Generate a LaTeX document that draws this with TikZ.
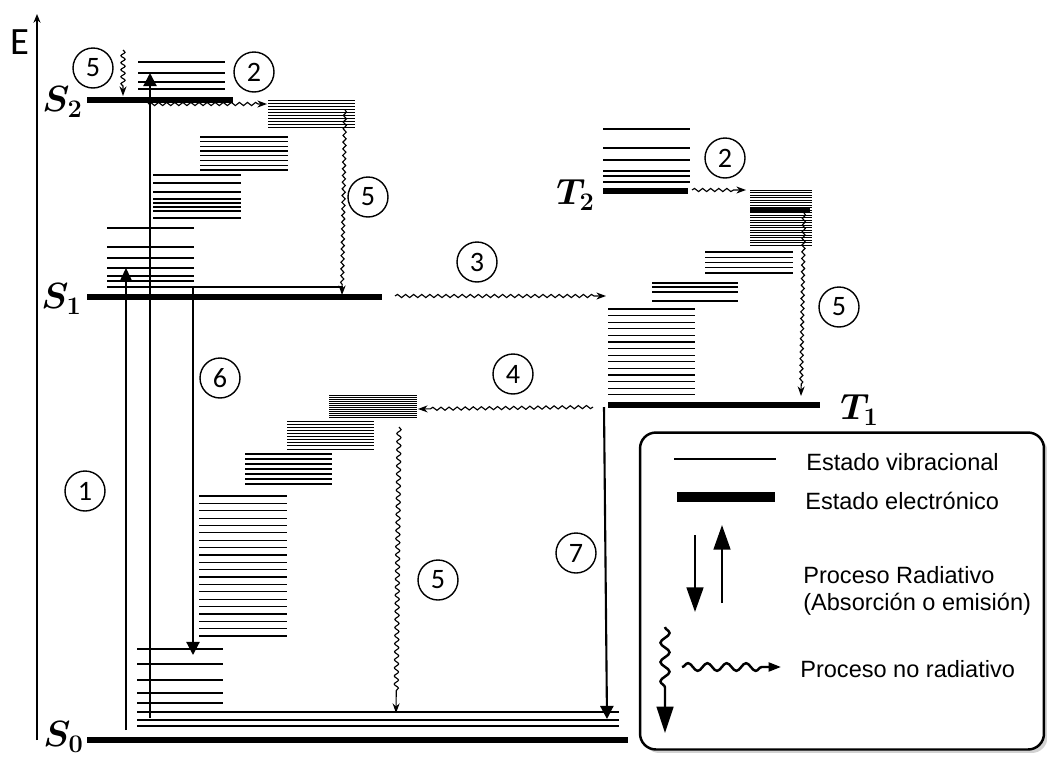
\documentclass[tikz,border=0pt]{standalone}
\usepackage{fontspec}
\setmainfont{Liberation Sans}
\newfontfamily\calfont{Carlito}
\usetikzlibrary{arrows.meta,decorations.pathmorphing,shadows}

\begin{document}
\begin{tikzpicture}[x=0.02cm, y=-0.02cm,
    lvl/.style={line width=3.6pt},
    vib/.style={line width=0.7pt},
    vibfino/.style={line width=0.45pt},
    num/.style={circle, draw, line width=0.8pt, minimum size=0.8cm, inner sep=0pt,
      font=\calfont\fontsize{16}{18}\selectfont},
    est/.style={font=\fontsize{20}{23}\selectfont\boldmath, inner sep=0pt},
    rad/.style={line width=1.2pt, -{Triangle[length=7.5pt,width=7.5pt]}},
    radthin/.style={line width=0.6pt, -{Triangle[length=7.5pt,width=7pt]}},
    wave/.style={line width=0.65pt, decorate,
      decoration={snake, amplitude=0.9pt, segment length=4.6pt, post length=5pt},
      -{Stealth[length=5.5pt,width=4pt]}},
    legrad/.style={line width=1.4pt, -{Triangle[length=14pt,width=9.5pt]}},
    txt/.style={anchor=west, inner sep=0pt, font=\fontsize{13.4}{15.3}\selectfont}
  ]
    \useasboundingbox (0,0) rectangle (1047,761);

    % eje de energia
    \coordinate (ebot) at (37,740);
    \coordinate (etop) at (37,14);
    \draw[line width=0.6pt, -{Stealth[length=5pt,width=4pt]}] (ebot) -- (etop);
    \node[font=\calfont\fontsize{22}{24}\selectfont] (elab) at (20,42) {E};

    % estados electronicos
    \draw[lvl] (87,100) -- (233,100);
    \draw[lvl] (87,297) -- (382,297);
    \draw[lvl] (87,740) -- (628,740);
    \draw[lvl] (603,191) -- (688,191);
    \draw[lvl] (608,405) -- (820,405);
    \node[est, anchor=east] (s2) at (83,102) {$S_2$};
    \node[est, anchor=east] (s1) at (82,299) {$S_1$};
    \node[est, anchor=east] (s0) at (84,737) {$S_0$};
    \node[est, anchor=east] (t2) at (595,195) {$T_2$};
    \node[est, anchor=west] (t1) at (840,410) {$T_1$};

    % estados vibracionales S2
    \foreach \y in {62,73,82,89} \draw[vib] (138,\y) -- (225,\y);
    \foreach \i in {0,...,9} \draw[vibfino] (268,100+3*\i) -- (355,100+3*\i);
    \foreach \i in {0,...,7} \draw[vib] (200,137+4.7*\i) -- (288,137+4.7*\i);
    \foreach \y in {175,183,192,199,203,207,211,218} \draw[vib] (153,\y) -- (241,\y);
    % estados vibracionales S1
    \foreach \y in {228,247,258,268,276,281} \draw[vib] (107,\y) -- (194,\y);
    \draw[vib] (107,287) -- (343,287);
    % estados vibracionales S0
    \foreach \i in {0,...,11} \draw[vibfino] (329,395+2*\i) -- (417,395+2*\i);
    \foreach \i in {0,...,9} \draw[vibfino] (287,421+3.1*\i) -- (374,421+3.1*\i);
    \foreach \i in {0,...,6} \draw[vib] (245,454+5*\i) -- (332,454+5*\i);
    \foreach \i in {0,...,19} \draw[vib] (199,496+7.37*\i) -- (287,496+7.37*\i);
    \foreach \y in {649,664,680,693,703} \draw[vib] (137,\y) -- (223,\y);
    \foreach \y in {712,720,726} \draw[vib] (137,\y) -- (619,\y);
    % estados vibracionales T2 y T1
    \foreach \y in {129,148,160,171,176,182} \draw[vib] (603,\y) -- (690,\y);
    \foreach \i in {0,...,22} \draw[vibfino] (750,190+2.5*\i) -- (812,190+2.5*\i);
    \draw[line width=3.4pt] (750,210) -- (810,210);
    \foreach \i in {0,...,4} \draw[vib] (705,252+5.25*\i) -- (793,252+5.25*\i);
    \foreach \y in {283,287,292,301} \draw[vib] (652,\y) -- (738,\y);
    \foreach \i in {0,...,13} \draw[vib] (608,309+6.6*\i) -- (695,309+6.6*\i);

    % procesos radiativos
    \coordinate (a1s) at (126,730);
    \coordinate (a1e) at (126,268);
    \draw[radthin] (a1s) -- (a1e);
    \coordinate (a2s) at (150,718);
    \coordinate (a2e) at (150,73);
    \draw[rad] (a2s) -- (a2e);
    \coordinate (f6s) at (193,287);
    \coordinate (f6e) at (193,655);
    \draw[rad] (f6s) -- (f6e);
    \coordinate (p7s) at (604,407);
    \coordinate (p7e) at (607,719);
    \draw[rad] (p7s) -- (p7e);

    % procesos no radiativos
    \coordinate (w5as) at (123,50);
    \coordinate (w5ae) at (123,96);
    \draw[wave, decoration={amplitude=1.2pt, segment length=4pt, post length=4pt}] (w5as) -- (w5ae);
    \coordinate (w2as) at (148,104);
    \coordinate (w2ae) at (267,104);
    \draw[wave] (w2as) -- (w2ae);
    \coordinate (w5bs) at (345,110);
    \coordinate (w5be) at (342,295);
    \draw[wave, decoration={segment length=3.8pt}] (w5bs) -- (w5be);
    \coordinate (w3s) at (395,296);
    \coordinate (w3e) at (606,296);
    \draw[wave] (w3s) -- (w3e);
    \coordinate (w2bs) at (692,190);
    \coordinate (w2be) at (746,190);
    \draw[wave] (w2bs) -- (w2be);
    \coordinate (w5cs) at (804,213);
    \coordinate (w5ce) at (801,396);
    \draw[wave, decoration={segment length=3.8pt}] (w5cs) -- (w5ce);
    \coordinate (w4s) at (593,407);
    \coordinate (w4e) at (418,409);
    \draw[wave] (w4s) -- (w4e);
    \coordinate (w5ds) at (399,427);
    \coordinate (w5de) at (396,713);
    \draw[wave, decoration={amplitude=1.2pt, post length=12pt}] (w5ds) -- (w5de);

    % numeros de proceso
    \node[num] (n5a) at (93,68) {5};
    \node[num] (n2a) at (254,72) {2};
    \node[num] (n5b) at (368,197) {5};
    \node[num] (n3) at (477,262) {3};
    \node[num] (n2b) at (725,158) {2};
    \node[num] (n5c) at (839,307) {5};
    \node[num] (n4) at (513,374) {4};
    \node[num] (n6) at (220,378) {6};
    \node[num] (n1) at (85,491) {1};
    \node[num] (n5d) at (438,580) {5};
    \node[num] (n7) at (576,553) {7};

    % leyenda
    \node[draw, line width=1.4pt, rounded corners=9pt, fill=white,
      minimum width=8.08cm, minimum height=6.34cm,
      drop shadow={shadow xshift=2pt, shadow yshift=-2pt, fill=black!35}] (ley) at (842,591) {};
    \coordinate (lv1) at (674,459);
    \coordinate (lv2) at (776,459);
    \draw[line width=1.6pt] (lv1) -- (lv2);
    \coordinate (le1) at (677,497);
    \coordinate (le2) at (775,497);
    \draw[line width=5.5pt] (le1) -- (le2);
    \coordinate (lr1) at (695,535);
    \coordinate (lr2) at (695,612);
    \draw[legrad] (lr1) -- (lr2);
    \coordinate (lr3) at (722,603);
    \coordinate (lr4) at (722,525);
    \draw[legrad] (lr3) -- (lr4);
    \coordinate (lw1) at (665,627);
    \coordinate (lw2) at (665,733);
    \draw[line width=1.4pt, decorate,
      decoration={snake, amplitude=2.6pt, segment length=11pt, post length=24pt},
      -{Triangle[length=15pt,width=9.5pt]}] (lw1) -- (lw2);
    \coordinate (lw3) at (682,667);
    \coordinate (lw4) at (781,667);
    \draw[line width=1.4pt, decorate,
      decoration={snake, amplitude=2.2pt, segment length=11pt, post length=10pt},
      -{Triangle[length=7pt,width=5pt]}] (lw3) -- (lw4);
    \node[txt] (tv) at (806,462) {Estado vibracional};
    \node[txt] (te) at (805,501) {Estado electrónico};
    \node[txt, align=left] (tr) at (803,591) {Proceso Radiativo\\(Absorción o emisión)};
    \node[txt] (tn) at (800,669) {Proceso no radiativo};
  \end{tikzpicture}
\end{document}
